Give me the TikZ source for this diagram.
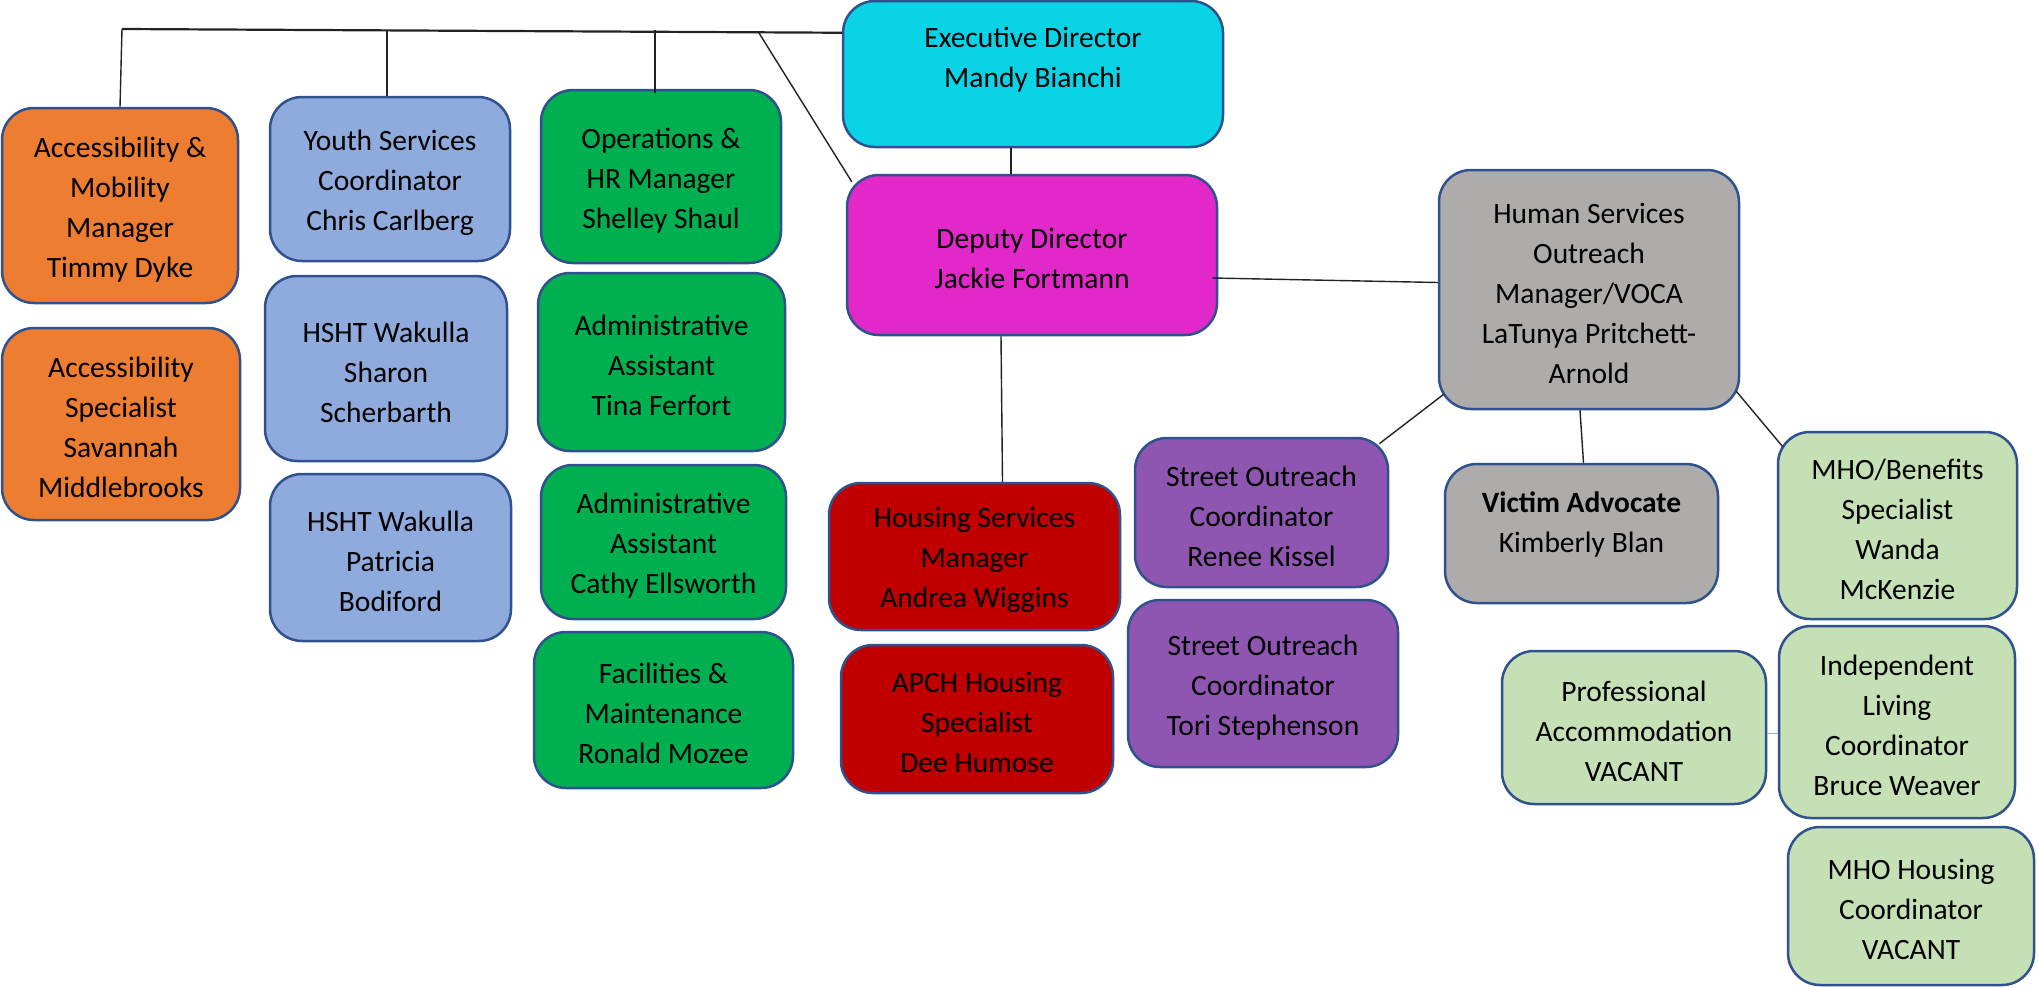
\documentclass[tikz,border=0pt]{standalone}
\usepackage{fontspec}
\setmainfont{Carlito}
\usetikzlibrary{calc}
\definecolor{bord}{HTML}{2F528F}
\definecolor{orangec}{HTML}{ED7D31}
\definecolor{bluec}{HTML}{8FAADC}
\definecolor{greenc}{HTML}{00B050}
\definecolor{cyanc}{HTML}{0BD3E6}
\definecolor{magc}{HTML}{E228C8}
\definecolor{redc}{HTML}{C00000}
\definecolor{purpc}{HTML}{8E56B0}
\definecolor{grayc}{HTML}{AEABAB}
\definecolor{lgreenc}{HTML}{C5E0B4}
\definecolor{linkc}{HTML}{222222}
\tikzset{
  box/.style={draw=bord, line width=2.5pt, rounded corners=32pt, align=center,
    inner sep=0pt, text=black, font=\fontsize{29.5}{40}\selectfont},
  link/.style={draw=linkc, line width=1.4pt},
  bar/.style={draw=linkc, line width=2.2pt}
}
\newcommand{\obox}[7]{\node[box,fill=#2,minimum width={#5-#3},minimum height={#6-#4}] (#1) at ({(#3+#5)/2},{(#4+#6)/2}) {\rule{0pt}{28pt}#7};}
\begin{document}
\begin{tikzpicture}[x=1pt,y=-1pt]
\useasboundingbox (0,0) rectangle (2038,988);
% left columns
\obox{o1}{orangec}{2}{108}{238}{303}{Accessibility \&\\Mobility\\Manager\\Timmy Dyke}
\obox{o2}{orangec}{2}{328}{240}{520}{Accessibility\\Specialist\\Savannah\\Middlebrooks}
\obox{b1}{bluec}{270}{97}{510}{261}{Youth Services\\Coordinator\\Chris Carlberg}
\obox{b2}{bluec}{265}{276}{507}{461}{HSHT Wakulla\\Sharon\\Scherbarth}
\obox{b3}{bluec}{270}{474}{511}{641}{HSHT Wakulla\\Patricia\\Bodiford}
\obox{g1}{greenc}{541}{90}{781}{263}{Operations \&\\HR Manager\\Shelley Shaul}
\obox{g2}{greenc}{538}{273}{785}{451}{Administrative\\Assistant\\Tina Ferfort}
\obox{g3}{greenc}{541}{465}{786}{619}{Administrative\\Assistant\\Cathy Ellsworth}
\obox{g4}{greenc}{534}{632}{793}{788}{Facilities \&\\Maintenance\\Ronald Mozee}
% centre
\obox{exec}{cyanc}{843}{1}{1223}{147}{Executive Director\\Mandy Bianchi\rule[-42pt]{0pt}{0pt}}
\obox{dep}{magc}{847}{175}{1217}{335}{Deputy Director\\Jackie Fortmann}
\obox{r1}{redc}{829}{483}{1120}{630}{Housing Services\\Manager\\Andrea Wiggins}
\obox{r2}{redc}{841}{645}{1113}{793}{APCH Housing\\Specialist\\Dee Humose}
\obox{p1}{purpc}{1135}{438}{1388}{587}{Street Outreach\\Coordinator\\Renee Kissel}
\obox{p2}{purpc}{1128}{600}{1398}{767}{Street Outreach\\Coordinator\\Tori Stephenson}
% right
\obox{hs}{grayc}{1439}{170}{1739}{409}{Human Services\\Outreach\\Manager/VOCA\\LaTunya Pritchett-\\Arnold}
\obox{vic}{grayc}{1445}{464}{1718}{603}{\textbf{Victim Advocate}\\Kimberly Blan\rule[-30pt]{0pt}{0pt}}
\obox{mb}{lgreenc}{1778}{432}{2017}{619}{MHO/Benefits\\Specialist\\Wanda\\McKenzie}
\obox{prof}{lgreenc}{1502}{651}{1766}{804}{Professional\\Accommodation\\VACANT}
\obox{ind}{lgreenc}{1779}{626}{2015}{818}{Independent\\Living\\Coordinator\\Bruce Weaver}
\obox{mhoh}{lgreenc}{1788}{827}{2034}{985}{MHO Housing\\Coordinator\\VACANT}
% connectors
\coordinate (barL) at (122,29);
\coordinate (barR) at ($(exec.north west)+(0,33)$);
\draw[bar] (barL) -- (barR);
\draw[link] (barL) -- (o1.north);
\draw[link] ($(b1.north)+(-3,0)$) -- ++(0,-65);
\draw[link] ($(g1.north)+(-6,4)$) -- ++(0,-63);
\draw[link] (759,33) -- ($(dep.north west)+(6,8)$);
\draw[link] ($(exec.south)+(-22,0)$) -- ($(dep.north)+(-21,0)$);
\draw[link] ($(dep.east)+(-6,23)$) -- ($(hs.west)+(0,-7)$);
\draw[link] ($(dep.south)+(-31,0)$) -- ($(r1.north)+(28,0)$);
\draw[link] ($(hs.south west)+(6,-16)$) -- ($(p1.north east)+(-10,7)$);
\draw[link] ($(hs.south)+(-9,0)$) -- ($(vic.north)+(2,0)$);
\draw[link] ($(hs.south east)+(-4,-19)$) -- ($(mb.north west)+(6,16)$);
\draw[draw=bluec, line width=1.5pt] ($(prof.east)+(0,6)$) -- ($(ind.west |- prof.east)+(0,6)$);
\end{tikzpicture}
\end{document}
